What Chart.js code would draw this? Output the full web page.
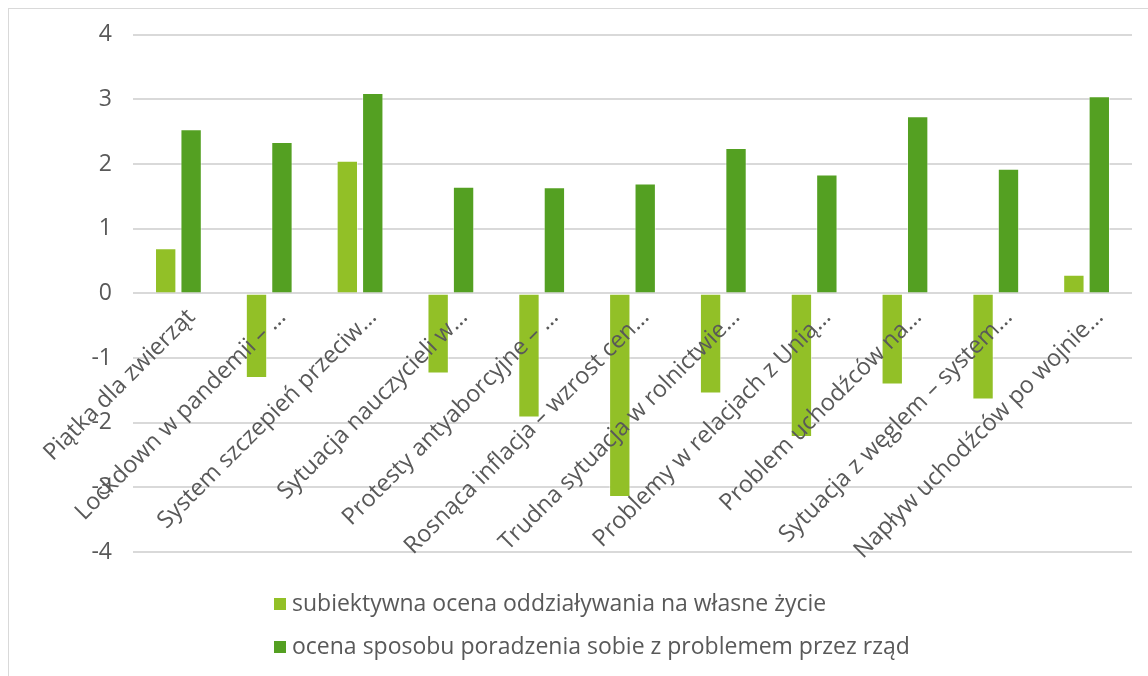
<!DOCTYPE html>
<html>
<head>
<meta charset="utf-8">
<script src="https://cdn.jsdelivr.net/npm/chart.js@4/dist/chart.umd.min.js"></script>
<style>
    html, body { margin: 0; padding: 0; background: #ffffff; }
    #wrap { position: relative; width: 1148px; height: 676px; }
</style>
</head>
<body>
<div id="wrap"><canvas id="wykres"></canvas></div>
<script>
const kategorie = [
    "Piątka dla zwierząt",
    "Lockdown w pandemii – …",
    "System szczepień przeciw…",
    "Sytuacja nauczycieli w…",
    "Protesty antyaborcyjne – …",
    "Rosnąca inflacja – wzrost cen…",
    "Trudna sytuacja w rolnictwie…",
    "Problemy w relacjach z Unią…",
    "Problem uchodźców na…",
    "Sytuacja z węglem – system…",
    "Napływ uchodźców po wojnie…"
];
const ocenaWlasna = [0.70, -1.31, 2.05, -1.24, -1.92, -3.15, -1.55, -2.22, -1.41, -1.64, 0.29];
const ocenaRzadu = [2.54, 2.34, 3.10, 1.65, 1.64, 1.70, 2.25, 1.84, 2.74, 1.93, 3.05];
const seriaNazwy = ["subiektywna ocena oddziaływania na własne życie", "ocena sposobu poradzenia sobie z problemem przez rząd"];
const yTicks = [-4, -3, -2, -1, 0, 1, 2, 3, 4];

const kolorJasny = "#92c027";
const kolorCiemny = "#54a022";
const szary = "#595959";
const czcionka = "'Open Sans', sans-serif";

// ramka wokół wykresu
const ramka = {
    id: "ramka",
    beforeDraw(chart) {
        const { ctx } = chart;
        ctx.save();
        ctx.strokeStyle = "#d9d9d9";
        ctx.lineWidth = 1;
        ctx.strokeRect(8.5, 8.5, 1160, 700);
        ctx.restore();
    }
};

// legenda w dwóch wierszach pod wykresem
const legendaPionowa = {
    id: "legendaPionowa",
    afterDraw(chart) {
        const { ctx } = chart;
        ctx.save();
        ctx.font = `23px ${czcionka}`;
        ctx.textBaseline = "middle";
        ctx.textAlign = "left";
        chart.data.datasets.forEach((ds, i) => {
            const y = 604 + i * 43;
            ctx.fillStyle = ds.backgroundColor;
            ctx.fillRect(274, y - 6, 12, 12);
            ctx.fillStyle = szary;
            ctx.fillText(ds.label, 292, y);
        });
        ctx.restore();
    }
};

new Chart(document.getElementById("wykres"), {
    type: "bar",
    plugins: [ramka, legendaPionowa],
    data: {
        labels: kategorie,
        datasets: [
            { label: seriaNazwy[0], data: ocenaWlasna, backgroundColor: kolorJasny, borderColor: "rgba(255,255,255,0.5)", borderWidth: 1, categoryPercentage: 0.56, barPercentage: 0.84 },
            { label: seriaNazwy[1], data: ocenaRzadu, backgroundColor: kolorCiemny, borderColor: "rgba(255,255,255,0.5)", borderWidth: 1, categoryPercentage: 0.56, barPercentage: 0.84 }
        ]
    },
    options: {
        responsive: true,
        maintainAspectRatio: false,
        animation: false,
        layout: { padding: { left: 91, right: 16, top: 33, bottom: 124 } },
        plugins: { legend: { display: false }, tooltip: { enabled: false } },
        scales: {
            x: {
                position: { y: 0 },
                afterFit(scale) { scale.paddingLeft = 0; scale.paddingRight = 0; scale.height = 0; },
                grid: { display: false, drawTicks: false },
                border: { display: false },
                ticks: { z: 1, color: szary, font: { family: czcionka, size: 23.5 }, minRotation: 45, maxRotation: 45, padding: 10, labelOffset: 13, autoSkip: false }
            },
            y: {
                min: -4,
                max: 4,
                afterBuildTicks(axis) { axis.ticks = yTicks.map((v) => ({ value: v })); },
                afterFit(scale) { scale.width = 42; },
                grid: { color: "#d9d9d9", lineWidth: 2, drawTicks: false },
                border: { display: false },
                ticks: { color: szary, font: { family: czcionka, size: 23 }, padding: 21 }
            }
        }
    }
});
</script>
</body>
</html>
